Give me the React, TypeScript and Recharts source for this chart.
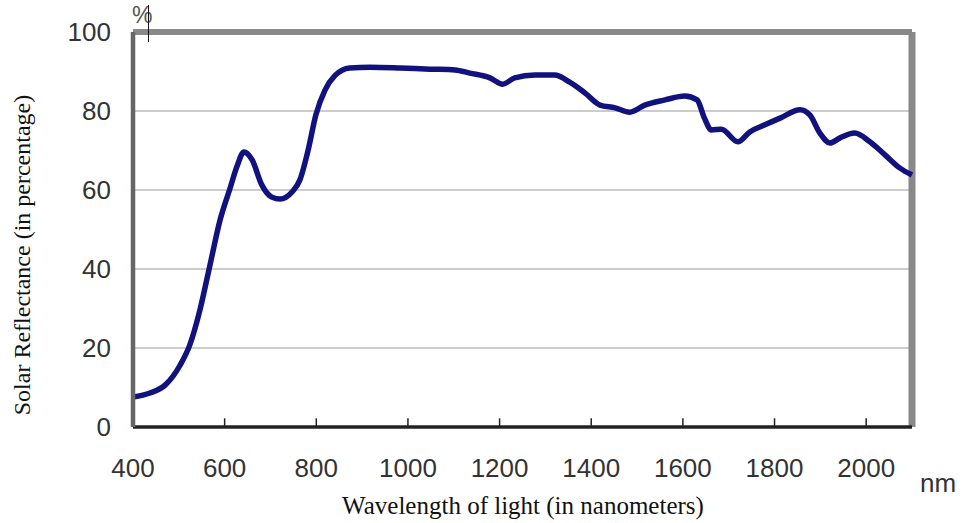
import { LineChart, Line, XAxis, YAxis, CartesianGrid, ReferenceLine } from 'recharts'

const wavelength = [
  400, 437, 470, 503, 524, 546, 568, 590, 612, 627, 642, 660, 681, 703, 721, 747, 764, 782, 799, 819,
  841, 873, 917, 983, 1048, 1103, 1135, 1179, 1207, 1233, 1277, 1320, 1353, 1386, 1419, 1452, 1484,
  1517, 1561, 1604, 1631, 1647, 1662, 1684, 1720, 1746, 1779, 1812, 1856, 1877, 1899, 1921, 1943,
  1975, 2008, 2041, 2073, 2100,
]
const reflectance = [
  7.6, 8.6, 10.6, 15.7, 20.8, 29.6, 41, 52.4, 60.5, 66, 69.6, 67.6, 61.3, 58.2, 57.7, 59.5, 62.5, 70,
  79, 85.3, 89, 90.9, 91.1, 90.9, 90.6, 90.4, 89.6, 88.4, 86.8, 88.4, 89.1, 89.1, 87.3, 84.6, 81.5,
  80.8, 79.7, 81.5, 82.8, 83.8, 82.8, 78.2, 75.2, 75.4, 72.2, 74.7, 76.5, 78.2, 80.3, 79, 74.4, 71.9,
  73.2, 74.4, 72.2, 68.9, 65.6, 63.8,
]
const xTicks = [400, 600, 800, 1000, 1200, 1400, 1600, 1800, 2000]
const yTicks = [0, 20, 40, 60, 80, 100]

const data = wavelength.map((nm, i) => ({ nm, value: reflectance[i] }))

const tickStyle = { fontSize: 26, fill: '#333', fontFamily: 'Liberation Sans, Arial, sans-serif' }
const serif = 'Liberation Serif, Times New Roman, serif'

export default function App() {
  return (
    <div style={{ position: 'absolute', left: 0, top: 0, width: 969, height: 523, background: '#fff' }}>
      <LineChart width={969} height={523} data={data} margin={{ top: 32, right: 57, bottom: 66, left: 73 }}>
        <CartesianGrid vertical={false} stroke="#bbb" strokeWidth={1.5} />
        <XAxis
          dataKey="nm"
          type="number"
          domain={[400, 2100]}
          ticks={xTicks}
          tick={tickStyle}
          tickLine={false}
          tickMargin={26}
          height={30}
          axisLine={{ stroke: '#222', strokeWidth: 3.5 }}
        />
        <YAxis
          domain={[0, 100]}
          ticks={yTicks}
          tick={tickStyle}
          width={60}
          tickLine={false}
          tickMargin={16}
          axisLine={{ stroke: '#666', strokeWidth: 4.5 }}
        />
        {xTicks.slice(1).map((t) => (
          <ReferenceLine
            key={t}
            segment={[{ x: t, y: 0 }, { x: t, y: 2.2 }]}
            stroke="#222"
            strokeWidth={1.5}
          />
        ))}
        <ReferenceLine y={100} stroke="#888" strokeWidth={6} />
        <ReferenceLine x={2100} stroke="#888" strokeWidth={7} />
        <Line
          dataKey="value"
          type="monotone"
          stroke="#12127f"
          strokeWidth={5.5}
          dot={false}
          isAnimationActive={false}
        />
      </LineChart>
      <div style={{ position: 'absolute', left: 132, top: 2, fontSize: 23, color: '#555', fontFamily: 'Liberation Sans, Arial, sans-serif' }}>%</div>
      <div style={{ position: 'absolute', left: 148, top: 5, width: 1, height: 37, background: '#111' }} />
      <div
        style={{
          position: 'absolute',
          left: 22,
          top: 255,
          transform: 'translate(-50%, -50%) rotate(-90deg)',
          whiteSpace: 'nowrap',
          fontSize: 24,
          fontFamily: serif,
          color: '#111',
        }}
      >
        Solar Reflectance (in percentage)
      </div>
      <div
        style={{
          position: 'absolute',
          left: 523,
          top: 506,
          transform: 'translate(-50%, -50%)',
          whiteSpace: 'nowrap',
          fontSize: 25,
          fontFamily: serif,
          color: '#111',
        }}
      >
        Wavelength of light (in nanometers)
      </div>
      <div style={{ position: 'absolute', left: 920, top: 468, fontSize: 26, color: '#333', fontFamily: 'Liberation Sans, Arial, sans-serif' }}>nm</div>
    </div>
  )
}
